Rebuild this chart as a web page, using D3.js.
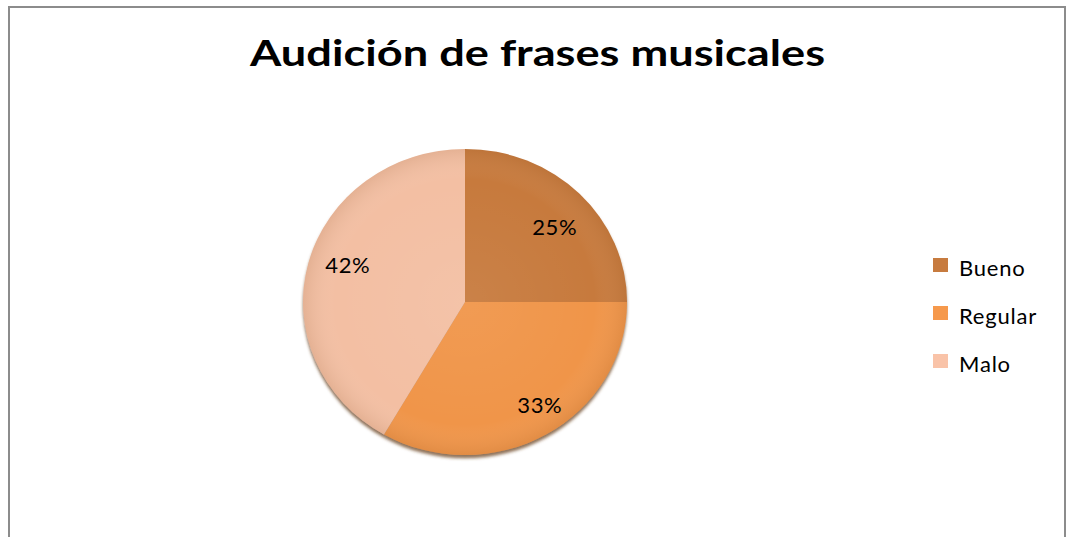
<!DOCTYPE html>
<html>
<head>
<meta charset="utf-8">
<script src="https://cdn.jsdelivr.net/npm/d3@7"></script>
<style>
  body { margin: 0; background: #fff; }
  svg { display: block; font-family: Lato, "Open Sans", sans-serif; }
</style>
</head>
<body>
<div id="chart"></div>
<script>
const title = 'Audición de frases musicales';
const categories = ['Bueno', 'Regular', 'Malo'];
const counts = [3, 4, 5];
const colors = ['#c77a3d', '#f09548', '#f3bfa3'];
const legendColors = ['#c77b3f', '#f6994c', '#f9c3a8'];

const W = 1067, H = 537;
const cx = 465, cy = 302, r = 162, squash = 0.945;
// nudges that mimic Excel's "best fit" label placement
const labelNudge = [[-2, 12], [10, -3], [8, -5]];

const svg = d3.select('#chart')
  .append('svg')
  .attr('width', W)
  .attr('height', H);

const defs = svg.append('defs');
const shadow = defs.append('filter').attr('id', 'shadow')
  .attr('x', '-20%').attr('y', '-20%').attr('width', '140%').attr('height', '140%');
shadow.append('feDropShadow')
  .attr('dx', 0).attr('dy', 3.5).attr('stdDeviation', 1.6)
  .attr('flood-color', '#6b4420').attr('flood-opacity', 0.75);

const shade = defs.append('radialGradient').attr('id', 'shade')
  .attr('cx', '50%').attr('cy', '50%').attr('r', '50%');
shade.append('stop').attr('offset', '0%').attr('stop-color', '#fff').attr('stop-opacity', 0.06);
shade.append('stop').attr('offset', '80%').attr('stop-color', '#fff').attr('stop-opacity', 0);
shade.append('stop').attr('offset', '100%').attr('stop-color', '#7a4a20').attr('stop-opacity', 0.12);

// chart frame
svg.append('rect')
  .attr('x', 9).attr('y', 7)
  .attr('width', 1056).attr('height', 560)
  .attr('fill', '#fff')
  .attr('stroke', '#8c8c8c')
  .attr('stroke-width', 2);

svg.append('text')
  .attr('x', 537.5).attr('y', 66)
  .attr('text-anchor', 'middle')
  .attr('font-weight', 'bold')
  .attr('font-size', 36)
  .attr('textLength', 575)
  .attr('lengthAdjust', 'spacingAndGlyphs')
  .attr('fill', '#000')
  .text(title);

const data = categories.map((c, i) => ({ name: c, value: counts[i], color: colors[i] }));
const total = d3.sum(counts);

const pie = d3.pie().sort(null).value(d => d.value);
const arc = d3.arc().innerRadius(0).outerRadius(r);
const labelArc = d3.arc().innerRadius(r * 0.8).outerRadius(r * 0.8);
const arcs = pie(data);

const g = svg.append('g')
  .attr('transform', `translate(${cx},${cy}) scale(1,${squash})`);

g.append('g').attr('filter', 'url(#shadow)')
  .selectAll('path')
  .data(arcs)
  .join('path')
  .attr('d', arc)
  .attr('fill', d => d.data.color);

g.append('circle').attr('r', r).attr('fill', 'url(#shade)');

svg.append('g')
  .selectAll('text')
  .data(arcs)
  .join('text')
  .attr('x', (d, i) => cx + labelArc.centroid(d)[0] + labelNudge[i][0])
  .attr('y', (d, i) => cy + labelArc.centroid(d)[1] * squash + 8 + labelNudge[i][1])
  .attr('text-anchor', 'middle')
  .attr('font-size', 22)
  .attr('letter-spacing', 0.6)
  .attr('fill', '#000')
  .text(d => Math.round(d.data.value / total * 100) + '%');

const legend = svg.append('g').attr('transform', 'translate(933,258)');
const item = legend.selectAll('g')
  .data(categories)
  .join('g')
  .attr('transform', (d, i) => `translate(0,${i * 48})`);
item.append('rect')
  .attr('width', 15).attr('height', 14)
  .attr('fill', (d, i) => legendColors[i]);
item.append('text')
  .attr('x', 26).attr('y', 18)
  .attr('font-size', 22)
  .attr('letter-spacing', 0.8)
  .attr('fill', '#000')
  .text(d => d);
</script>
</body>
</html>
